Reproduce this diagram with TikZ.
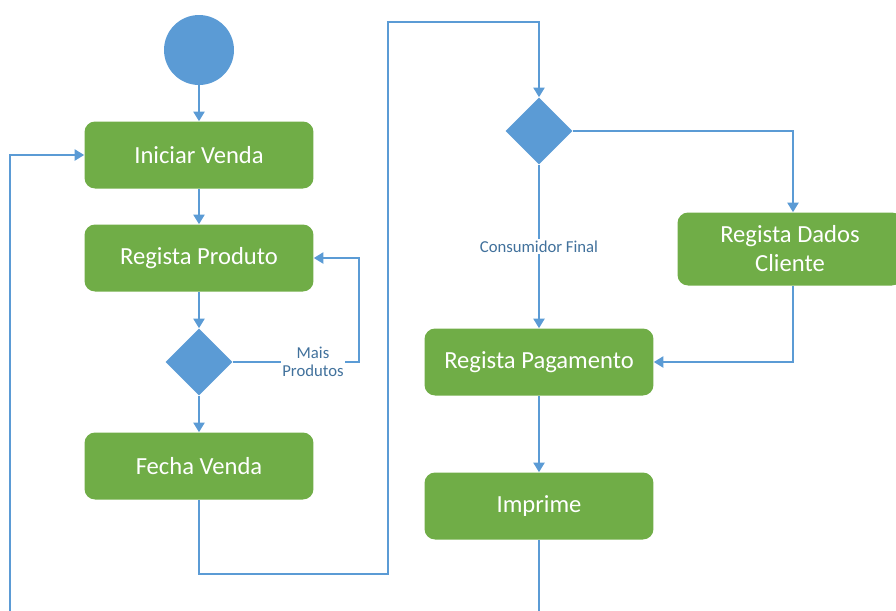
\documentclass[tikz,border=0pt]{standalone}
\usepackage{fontspec}
\setmainfont{Carlito}
\usetikzlibrary{shapes.geometric,arrows.meta}

\definecolor{actgreen}{HTML}{70AD47}
\definecolor{flowblue}{HTML}{5B9BD5}
\definecolor{labelblue}{HTML}{41719C}

\tikzset{
    activity/.style={rectangle, rounded corners=6pt, fill=actgreen,
        text=white, minimum width=4.58cm, minimum height=1.34cm,
        font=\fontsize{14}{16.5}\selectfont, align=center},
    decision/.style={diamond, fill=flowblue, aspect=1, inner sep=0pt,
        minimum size=1.34cm},
    flow/.style={flowblue, line width=0.8pt},
    flowarrow/.style={flow, -{Triangle[length=5.5pt,width=6.5pt]}},
    flowlabel/.style={fill=white, text=labelblue, inner sep=1pt,
        font=\fontsize{9.5}{10.5}\selectfont, align=center}
}

\begin{document}
\begin{tikzpicture}[x=0.02cm, y=-0.02cm]

    \useasboundingbox (0,0) rectangle (896,610);

    \node[circle, fill=flowblue, minimum size=1.4cm, inner sep=0pt] (Start) at (199,50) {};

    \node[activity] (Iniciar) at (199,155) {Iniciar Venda};
    \node[activity] (Produto) at (199,258) {Regista Produto};
    \node[decision] (Mais) at (199,362) {};
    \node[activity] (Fecha) at (199,466) {Fecha Venda};

    \node[decision] (Cliente) at (539,131) {};
    \node[activity, minimum width=4.5cm, minimum height=1.46cm] (Dados) at (790,249) {Regista Dados\\Cliente};
    \node[activity] (Pagamento) at (539,362) {Regista Pagamento};
    \node[activity] (Imprime) at (539,506) {Imprime};

    \coordinate (FechaDown) at (388,574);
    \coordinate (FechaUp) at (388,22);
    \coordinate (DadosX) at (793,0);
    \coordinate (MaisTurn) at (359,362);
    \coordinate (Fim) at (539,612);
    \coordinate (Volta) at (10,612);

    \draw [flowarrow] (Start) -- (Iniciar);
    \draw [flowarrow] (Iniciar) -- (Produto);
    \draw [flowarrow] (Produto) -- (Mais);
    \draw [flowarrow] (Mais) -- (Fecha);
    \draw [flowarrow] (Mais.east) -- (MaisTurn) |- (Produto.east);
    \node[flowlabel] (MaisLabel) at (313,362) {Mais\\Produtos};

    \draw [flowarrow] (Fecha.south) |- (FechaDown) -- (FechaUp) -| (Cliente.north);
    \draw [flowarrow] (Cliente.east) -| (Dados.north -| DadosX);
    \draw [flowarrow] (Cliente.south) -- (Pagamento.north)
        node [flowlabel, midway] {Consumidor Final};
    \draw [flowarrow] (Dados.south -| DadosX) |- (Pagamento.east);
    \draw [flowarrow] (Pagamento) -- (Imprime);
    \draw [flow] (Imprime.south) -- (Fim);
    \draw [flowarrow] (Volta) |- (Iniciar.west);

\end{tikzpicture}
\end{document}
